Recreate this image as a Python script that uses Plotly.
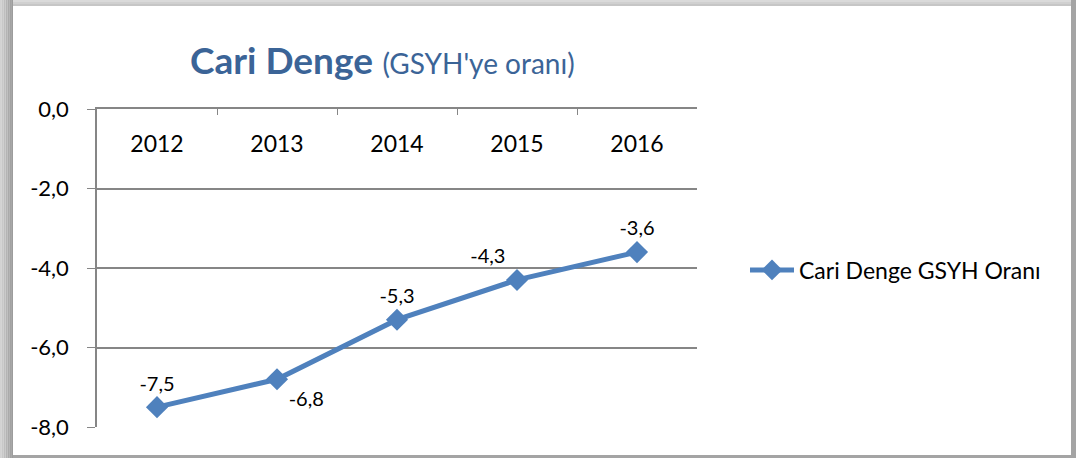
import plotly.graph_objects as go

years = ["2012", "2013", "2014", "2015", "2016"]
ratio = [-7.5, -6.8, -5.3, -4.3, -3.6]
label_pos = ["top center", "bottom right", "top center", "top left", "top center"]
series_name = "Cari Denge GSYH Oranı"
y_tick_vals = [0, -2, -4, -6, -8]
y_tick_text = ["0,0", "-2,0", "-4,0", "-6,0", "-8,0"]
point_labels = ["-7,5", "-6,8", "-5,3", "-4,3", "-3,6"]

W, H = 1076, 458
BLUE = "#4F81BD"
AXIS = "#868686"
FONT = "Lato, 'Open Sans', sans-serif"
L, R, T, B = 97, 697, 109, 427


def px_x(p):
    return (p - L) / (R - L)


def px_y(p):
    return (B - p) / (B - T)


fig = go.Figure()
fig.add_trace(go.Scatter(
    x=years, y=ratio, name=series_name,
    mode="lines+markers+text",
    line=dict(color=BLUE, width=5),
    marker=dict(symbol="diamond", size=17, color=BLUE),
    text=point_labels, textposition=label_pos,
    textfont=dict(size=20, color="#000000", family=FONT),
    cliponaxis=False, hoverinfo="x+y",
))
# invisible helper trace carrying the category labels (shown inside plot, below top axis)
fig.add_trace(go.Scatter(
    x=years, y=ratio, xaxis="x2", mode="markers",
    marker=dict(opacity=0), showlegend=False, hoverinfo="skip",
))


def rect(x0, x1, y0, y1, color):
    return dict(type="rect", xref="paper", yref="paper", layer="below",
                x0=px_x(x0), x1=px_x(x1), y0=px_y(y1), y1=px_y(y0),
                fillcolor=color, line=dict(width=0))


shapes = []
# left shadow gradient
left_grays = ["#d2d2d2", "#c8c8c8", "#bebebe", "#b4b4b4", "#aaaaaa", "#a2a2a2", "#9c9c9c"]
n = len(left_grays)
for i, g in enumerate(left_grays):
    shapes.append(rect(i * 13 / n, (i + 1) * 13 / n, 0, H, g))
# top shadow
top_grays = ["#dadada", "#d0d0d0", "#c6c6c6"]
for i, g in enumerate(top_grays):
    shapes.append(rect(13, W, i * 2, (i + 1) * 2, g))
# right and bottom edges
shapes.append(rect(1071, W, 0, H, "#a4a4a4"))
shapes.append(rect(13, W, 455, H, "#a4a4a4"))
shapes.append(rect(13, 1071, 6, 455, "#ffffff"))

fig.update_layout(
    width=W, height=H,
    margin=dict(l=L, r=W - R, t=T, b=H - B),
    paper_bgcolor="#ffffff", plot_bgcolor="rgba(0,0,0,0)",
    font=dict(family=FONT, size=20, color="#000000"),
    showlegend=True,
    legend=dict(x=px_x(745), y=px_y(270),
                yanchor="middle", xanchor="left", itemwidth=44,
                font=dict(size=23, family=FONT, color="#000000"),
                bgcolor="rgba(0,0,0,0)"),
    shapes=shapes,
    annotations=[dict(
        xref="paper", yref="paper",
        x=px_x(382), y=px_y(60),
        xanchor="center", yanchor="middle", showarrow=False,
        text="<b>Cari Denge</b> <span style='font-size:28px'>(GSYH'ye oranı)</span>",
        font=dict(size=37, color="#3B6497", family=FONT),
    )],
    xaxis=dict(
        type="category", side="top", range=[-0.5, 4.5],
        showline=True, linecolor=AXIS, linewidth=1.5,
        ticks="inside", ticklen=6, tickcolor=AXIS, tickson="boundaries",
        showticklabels=False, showgrid=False, zeroline=False,
    ),
    xaxis2=dict(
        type="category", overlaying="x", anchor="free", side="bottom",
        position=px_y(128), range=[-0.5, 4.5],
        showline=False, ticks="", showgrid=False, zeroline=False,
        tickfont=dict(size=23, family=FONT, color="#000000"),
    ),
    yaxis=dict(
        range=[-8, 0], tickvals=y_tick_vals, ticktext=y_tick_text,
        showline=True, linecolor=AXIS, linewidth=1.5,
        ticks="outside", ticklen=8, tickcolor=AXIS,
        showgrid=True, gridcolor=AXIS, gridwidth=1.5,
        zeroline=False, ticklabelstandoff=14,
        tickfont=dict(size=22, family=FONT, color="#000000"),
    ),
)

fig.write_html("out.html")
